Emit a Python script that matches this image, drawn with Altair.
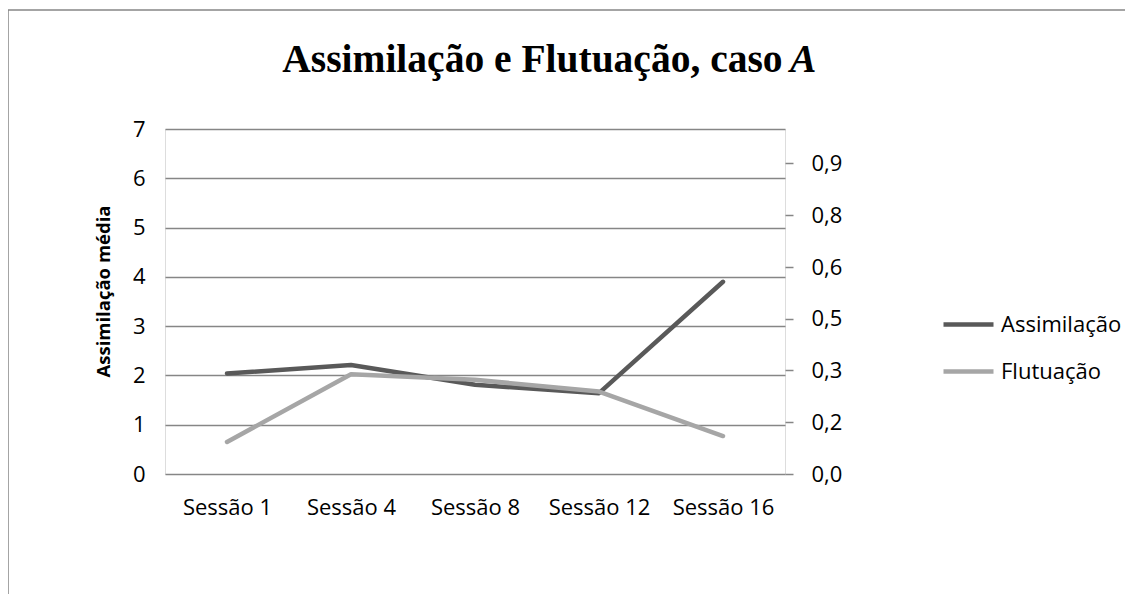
import altair as alt
import pandas as pd

# ---- data ----
sessoes = ["Sessão 1", "Sessão 4", "Sessão 8", "Sessão 12", "Sessão 16"]
assimilacao = [2.04, 2.21, 1.81, 1.64, 3.90]
flutuacao = [0.093, 0.289, 0.273, 0.239, 0.110]
series = ["Assimilação", "Flutuação"]
left_ticks = [0, 1, 2, 3, 4, 5, 6, 7]
right_ticks = [0, 0.15, 0.3, 0.45, 0.6, 0.75, 0.9]
title_main = "Assimilação e Flutuação, caso"
title_case = "A"

df_a = pd.DataFrame({"Sessão": sessoes, "valor": assimilacao, "Série": series[0]})
df_f = pd.DataFrame({"Sessão": sessoes, "valor": flutuacao, "Série": series[1]})
df_one = pd.DataFrame({"t": [title_case]})

FONT = "Open Sans"
GRAY = "#868686"
DARK = "#595959"
LIGHT = "#a6a6a6"

x_enc = alt.X(
    "Sessão:N",
    sort=sessoes,
    scale=alt.Scale(padding=0.5),
    axis=alt.Axis(title=None, labelAngle=0, ticks=False, domain=False,
                  labelPadding=23, labelFontSize=22, labelFont=FONT,
                  labelColor="black", grid=False),
)

color_enc = alt.Color(
    "Série:N",
    scale=alt.Scale(domain=series, range=[DARK, LIGHT]),
    legend=alt.Legend(title=None, orient="none", legendX=776, legendY=168,
                      symbolType="stroke", symbolSize=2500, symbolStrokeWidth=4.5,
                      labelFontSize=22, labelFont=FONT, labelColor="black",
                      rowPadding=8, padding=0, labelOffset=5),
)

line_a = alt.Chart(df_a).mark_line(strokeWidth=4.5, strokeCap="round", strokeJoin="round").encode(
    x=x_enc,
    y=alt.Y("valor:Q",
            scale=alt.Scale(domain=[0, 7], nice=False),
            axis=alt.Axis(orient="left", values=left_ticks, format="d",
                          title="Assimilação média", titleFont=FONT, titleFontSize=18.5,
                          titleFontWeight="bold", titleColor="black",
                          titleX=-56, titleY=162, titleAngle=270, titleAlign="center",
                          titleBaseline="alphabetic",
                          grid=True, gridColor=GRAY, gridWidth=1.5,
                          ticks=False, domain=False, labelPadding=20,
                          labelFontSize=22, labelFont=FONT, labelColor="black")),
    color=color_enc,
)

line_f = alt.Chart(df_f).mark_line(strokeWidth=4.5, strokeCap="round", strokeJoin="round").encode(
    x=x_enc,
    y=alt.Y("valor:Q",
            scale=alt.Scale(domain=[0, 1], nice=False),
            axis=alt.Axis(orient="right", values=right_ticks, title=None,
                          labelExpr="replace(format(round(datum.value*10)/10, '.1f'), '.', ',')",
                          grid=False, domain=False, ticks=True, tickSize=8,
                          tickColor=GRAY, tickWidth=1.5, labelPadding=18,
                          labelFontSize=22, labelFont=FONT, labelColor="black")),
    color=color_enc,
)

frame = alt.Chart(df_one).mark_rect(fill="transparent", stroke=GRAY, strokeWidth=1.5, clip=False).encode(
    x=alt.value(-157), x2=alt.value(1000), y=alt.value(-119), y2=alt.value(600)
)

# italic "A" that finishes the title
case_a = alt.Chart(df_one).mark_text(
    font="Liberation Serif", fontSize=39.5, fontWeight="bold", fontStyle="italic",
    align="left", baseline="alphabetic", color="black", clip=False,
).encode(text="t:N", x=alt.value(625), y=alt.value(-57))

chart = alt.layer(frame, line_a, line_f, case_a).resolve_scale(y="independent").properties(
    width=620,
    height=345,
    autosize=alt.AutoSizeParams(type="none"),
    padding={"left": 157, "top": 121, "right": 340, "bottom": 120},
    title=alt.Title(title_main, font="Liberation Serif",
                    fontSize=39.5, fontWeight="bold", color="black",
                    anchor="start", dx=275, offset=-102, baseline="alphabetic"),
).configure_view(stroke=GRAY, strokeWidth=1.5).configure(background="white")

chart.save("out.html", embed_options={"renderer": "svg", "actions": False})
